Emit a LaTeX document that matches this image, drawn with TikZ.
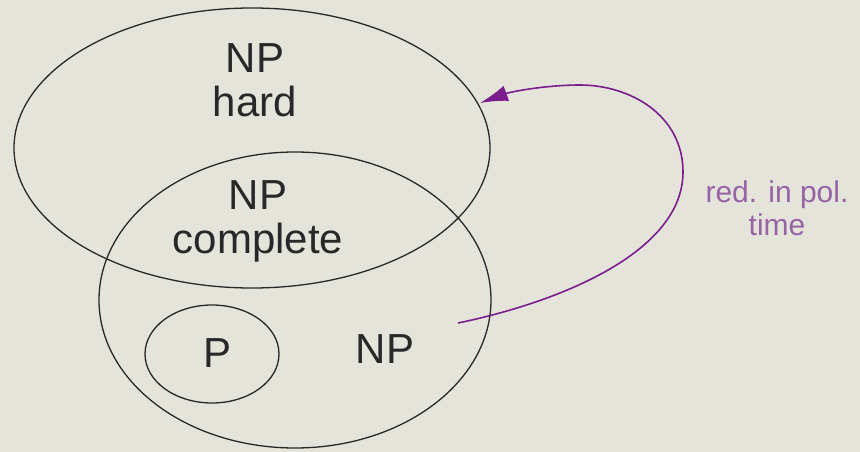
\documentclass[tikz,border=0pt]{standalone}
\usepackage{fontspec}
\setmainfont{Liberation Sans}
\usepackage{tikz}
\usetikzlibrary{arrows.meta,shapes.geometric,positioning}
\definecolor{SlideBg}  {RGB}{229,228,219}
\definecolor{SetLine}  {RGB}{ 40, 40, 40}
\definecolor{RedPurple}{RGB}{122, 30,142}
\definecolor{RedLabel} {RGB}{150,100,165}

\tikzset{
  setline/.style={draw=SetLine,line width=1.3pt,ellipse,inner sep=0pt},
  setlabel/.style={text=SetLine,align=center,font=\fontsize{42}{50}\selectfont},
}

\begin{document}
\begin{tikzpicture}[x=1pt,y=-1pt]
\fill[SlideBg] (0,0) rectangle (860,452);
\useasboundingbox (0,0) rectangle (860,452);
% the three sets
\node[setline,minimum width=476pt,minimum height=280pt] (hardset) at (252,148) {};
\node[setline,minimum width=392pt,minimum height=296pt] (npset)   at (295,300) {};
\node[setline,minimum width=134pt,minimum height=98pt]  (pset)    at (212,354) {};
% labels
\node[setlabel] (hardlbl) at (255,80)  {NP\\[-6pt]hard};
\node[setlabel] (comlbl)  at (258,221) {NP\\[-6pt]complete};
\node[setlabel] (plbl)    at (218,353) {P};
\node[setlabel] (nplbl)   at (385,349) {NP};
% reduction arrow
\coordinate (redfrom) at (458,323);
\coordinate (redto)   at (480,103);
\draw[RedPurple,line width=1.6pt,-{Latex[length=28pt,width=16pt]}]
  (redfrom) .. controls (560,302) and (683,252) .. (683,172)
            .. controls (683,115) and (630,85) .. (580,85)
            .. controls (545,85) and (510,92) .. (redto);
\node[text=RedLabel,align=center,font=\fontsize{30}{33}\selectfont] (redlbl) at (777,208) {red. in pol.\\time};
\end{tikzpicture}
\end{document}
